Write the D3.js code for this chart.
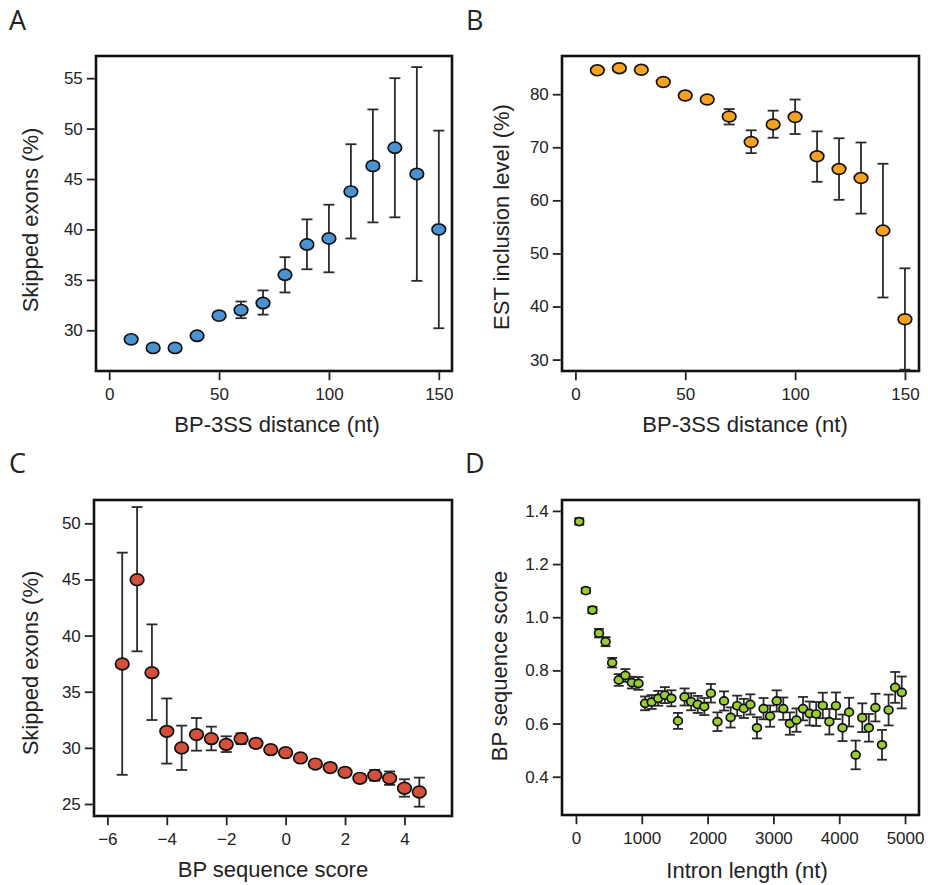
<!DOCTYPE html>
<html>
<head>
<meta charset="utf-8">
<script src="https://cdn.jsdelivr.net/npm/d3@7"></script>
<style>
  body { margin: 0; background: #fff; }
  text { font-family: "Liberation Sans", Arial, sans-serif; fill: #222; }
  .letter { font-family: "Open Sans", sans-serif; font-size: 27px; }
</style>
</head>
<body>
<svg width="928" height="885"></svg>
<script>
// ---- data ----
// A & B share the x values (BP-3SS distance, nt)
const distance = [10, 20, 30, 40, 50, 60, 70, 80, 90, 100, 110, 120, 130, 140, 150];

// A: skipped exons (%)
const skipA   = [29.1, 28.25, 28.25, 29.45, 31.45, 32.0, 32.7, 35.5, 38.5, 39.1, 43.75, 46.3, 48.1, 45.5, 40.0];
const skipALo = [28.9, 28.05, 28.05, 29.2, 31.1, 31.2, 31.55, 33.75, 36.05, 35.75, 39.1, 40.7, 41.2, 34.9, 30.2];
const skipAHi = [29.3, 28.45, 28.45, 29.7, 31.8, 32.85, 33.95, 37.25, 41.0, 42.45, 48.45, 51.9, 55.0, 56.1, 49.8];

// B: EST inclusion level (%)
const inclB   = [84.5, 84.9, 84.6, 82.3, 79.75, 79.0, 75.8, 71.0, 74.3, 75.7, 68.3, 65.9, 64.2, 54.3, 37.6];
const inclBLo = [84.1, 84.5, 84.2, 81.8, 79.2, 78.4, 74.3, 68.9, 71.8, 72.5, 63.5, 60.1, 57.5, 41.7, 28.1];
const inclBHi = [84.9, 85.3, 85.0, 82.8, 80.3, 79.6, 77.2, 73.2, 76.9, 79.0, 73.0, 71.7, 70.9, 66.9, 47.2];

// C: skipped exons (%) vs BP sequence score
const scoreC  = [-5.5, -5, -4.5, -4, -3.5, -3, -2.5, -2, -1.5, -1, -0.5, 0, 0.5, 1, 1.5, 2, 2.5, 3, 3.5, 4, 4.5];
const skipC   = [37.47, 44.98, 36.7, 31.47, 29.99, 31.18, 30.82, 30.31, 30.82, 30.4, 29.84, 29.57, 29.1, 28.56, 28.24, 27.82, 27.29, 27.55, 27.29, 26.4, 26.07];
const skipCLo = [27.6, 38.6, 32.48, 28.6, 28.03, 29.75, 29.78, 29.63, 30.34, 30.05, 29.5, 29.25, 28.8, 28.25, 27.95, 27.5, 26.95, 27.08, 26.7, 25.65, 24.76];
const skipCHi = [47.39, 51.45, 41.0, 34.4, 31.98, 32.66, 31.89, 31.03, 31.3, 30.75, 30.18, 29.9, 29.4, 28.87, 28.55, 28.14, 27.63, 28.03, 27.9, 27.2, 27.35];

// D: BP sequence score vs intron length (nt), bins of 100 nt
const intronLen = [50, 150, 250, 350, 450, 550, 650, 750, 850, 950,
  1050, 1150, 1250, 1350, 1450, 1550, 1650, 1750, 1850, 1950,
  2050, 2150, 2250, 2350, 2450, 2550, 2650, 2750, 2850, 2950,
  3050, 3150, 3250, 3350, 3450, 3550, 3650, 3750, 3850, 3950,
  4050, 4150, 4250, 4350, 4450, 4550, 4650, 4750, 4850, 4950];
const bpD = [1.36, 1.10, 1.027, 0.94, 0.908, 0.829, 0.764, 0.781, 0.754, 0.751,
  0.676, 0.681, 0.695, 0.707, 0.695, 0.61, 0.70, 0.682, 0.672, 0.664,
  0.714, 0.607, 0.685, 0.623, 0.667, 0.657, 0.672, 0.584, 0.656, 0.628,
  0.685, 0.656, 0.60, 0.613, 0.656, 0.638, 0.636, 0.668, 0.607, 0.667,
  0.584, 0.643, 0.482, 0.622, 0.584, 0.66, 0.52, 0.651, 0.736, 0.717];
const bpDErr = [0.012, 0.01, 0.012, 0.016, 0.017, 0.018, 0.022, 0.024, 0.022, 0.024,
  0.026, 0.026, 0.028, 0.03, 0.03, 0.03, 0.032, 0.032, 0.032, 0.032,
  0.035, 0.035, 0.036, 0.038, 0.038, 0.036, 0.038, 0.04, 0.04, 0.04,
  0.04, 0.042, 0.042, 0.044, 0.044, 0.045, 0.045, 0.048, 0.048, 0.05,
  0.05, 0.054, 0.054, 0.054, 0.052, 0.052, 0.056, 0.058, 0.058, 0.06];

// tick values
const ticksDist  = [0, 50, 100, 150];
const ticksA     = [30, 35, 40, 45, 50, 55];
const ticksB     = [30, 40, 50, 60, 70, 80];
const ticksScore = [-6, -4, -2, 0, 2, 4];
const ticksC     = [25, 30, 35, 40, 45, 50];
const ticksLen   = [0, 1000, 2000, 3000, 4000, 5000];
const ticksD     = [0.4, 0.6, 0.8, 1.0, 1.2, 1.4];

const svg = d3.select('svg');

function panel(o) {
  const x = d3.scaleLinear().domain(o.xDomain).range([o.left, o.right]);
  const y = d3.scaleLinear().domain(o.yDomain).range([o.bottom, o.top]);
  const g = svg.append('g');

  // axes (ticks outside the box, no domain line)
  const ax = g.append('g')
    .attr('transform', `translate(0,${o.bottom + 1.2})`)
    .call(d3.axisBottom(x).tickValues(o.xTicks).tickSize(8).tickPadding(8)
      .tickFormat(o.xFormat || d3.format('d')));
  const ay = g.append('g')
    .attr('transform', `translate(${o.left - 1.2},0)`)
    .call(d3.axisLeft(y).tickValues(o.yTicks).tickSize(8).tickPadding(4)
      .tickFormat(o.yFormat || d3.format('d')));
  [ax, ay].forEach(a => {
    a.select('.domain').remove();
    a.selectAll('line').attr('stroke', '#222').attr('stroke-width', 1.8);
    a.selectAll('text').attr('font-size', 17).attr('fill', '#222')
      .attr('font-family', '"Liberation Sans", Arial, sans-serif');
  });

  // box
  g.append('rect')
    .attr('x', o.left).attr('y', o.top)
    .attr('width', o.right - o.left).attr('height', o.bottom - o.top)
    .attr('fill', 'none').attr('stroke', '#111').attr('stroke-width', 2.6);

  const data = o.xs.map((v, i) => ({x: v, y: o.ys[i], lo: o.lo[i], hi: o.hi[i]}));
  const clip = v => Math.min(o.bottom, Math.max(o.top, v));

  // error bars
  const eb = g.append('g').attr('stroke', '#2a2a2a').attr('stroke-width', 1.8);
  eb.selectAll('line.v').data(data).join('line')
    .attr('x1', d => x(d.x)).attr('x2', d => x(d.x))
    .attr('y1', d => clip(y(d.lo))).attr('y2', d => clip(y(d.hi)));
  eb.selectAll('line.h').data(data).join('line')
    .attr('x1', d => x(d.x) - o.cap / 2).attr('x2', d => x(d.x) + o.cap / 2)
    .attr('y1', d => clip(y(d.hi))).attr('y2', d => clip(y(d.hi)));
  eb.selectAll('line.l').data(data).join('line')
    .attr('x1', d => x(d.x) - o.cap / 2).attr('x2', d => x(d.x) + o.cap / 2)
    .attr('y1', d => clip(y(d.lo))).attr('y2', d => clip(y(d.lo)));

  // points
  g.append('g').selectAll('ellipse').data(data).join('ellipse')
    .attr('cx', d => x(d.x)).attr('cy', d => y(d.y))
    .attr('rx', o.rx).attr('ry', o.ry)
    .attr('fill', o.color).attr('stroke', '#111').attr('stroke-width', 1.7);

  // titles
  g.append('text')
    .attr('x', o.xTitleX).attr('y', o.xTitleY)
    .attr('text-anchor', 'middle').attr('font-size', 22)
    .text(o.xTitle);
  g.append('text')
    .attr('transform', `translate(${o.yTitleX},${o.yTitleY}) rotate(-90)`)
    .attr('text-anchor', 'middle').attr('font-size', 22)
    .text(o.yTitle);
  svg.append('text').attr('class', 'letter')
    .attr('x', o.letterX).attr('y', o.letterY).text(o.letter);
}

panel({
  letter: 'A', letterX: 9, letterY: 30,
  left: 96, right: 452, top: 56, bottom: 371,
  xDomain: [-6, 156], yDomain: [25.96, 57.2],
  xTicks: ticksDist, yTicks: ticksA,
  xs: distance, ys: skipA, lo: skipALo, hi: skipAHi,
  color: '#4a93d3', rx: 6.8, ry: 5.6, cap: 11,
  xTitle: 'BP-3SS distance (nt)', xTitleX: 277, xTitleY: 432,
  yTitle: 'Skipped exons (%)', yTitleX: 37.5, yTitleY: 220
});

panel({
  letter: 'B', letterX: 466, letterY: 30,
  left: 562, right: 919, top: 56, bottom: 371,
  xDomain: [-6.1, 156.4], yDomain: [27.85, 87.2],
  xTicks: ticksDist, yTicks: ticksB,
  xs: distance, ys: inclB, lo: inclBLo, hi: inclBHi,
  color: '#f7a21e', rx: 6.8, ry: 5.4, cap: 11,
  xTitle: 'BP-3SS distance (nt)', xTitleX: 745, xTitleY: 432,
  yTitle: 'EST inclusion level (%)', yTitleX: 508.5, yTitleY: 217
});

panel({
  letter: 'C', letterX: 9, letterY: 473,
  left: 94, right: 452, top: 500, bottom: 816,
  xDomain: [-6.45, 5.6], yDomain: [23.93, 52.08],
  xTicks: ticksScore, yTicks: ticksC, xFormat: d3.format('d'),
  xs: scoreC, ys: skipC, lo: skipCLo, hi: skipCHi,
  color: '#d4503a', rx: 6.8, ry: 5.8, cap: 11,
  xTitle: 'BP sequence score', xTitleX: 273, xTitleY: 877,
  yTitle: 'Skipped exons (%)', yTitleX: 37.5, yTitleY: 663
});

panel({
  letter: 'D', letterX: 465, letterY: 473,
  left: 562, right: 919, top: 500, bottom: 815,
  xDomain: [-212, 5212], yDomain: [0.256, 1.441],
  xTicks: ticksLen, yTicks: ticksD, yFormat: d3.format('.1f'),
  xs: intronLen, ys: bpD,
  lo: bpD.map((v, i) => v - bpDErr[i]), hi: bpD.map((v, i) => v + bpDErr[i]),
  color: '#9acd32', rx: 4.4, ry: 4.0, cap: 10,
  xTitle: 'Intron length (nt)', xTitleX: 747, xTitleY: 878,
  yTitle: 'BP sequence score', yTitleX: 507, yTitleY: 666
});
</script>
</body>
</html>
